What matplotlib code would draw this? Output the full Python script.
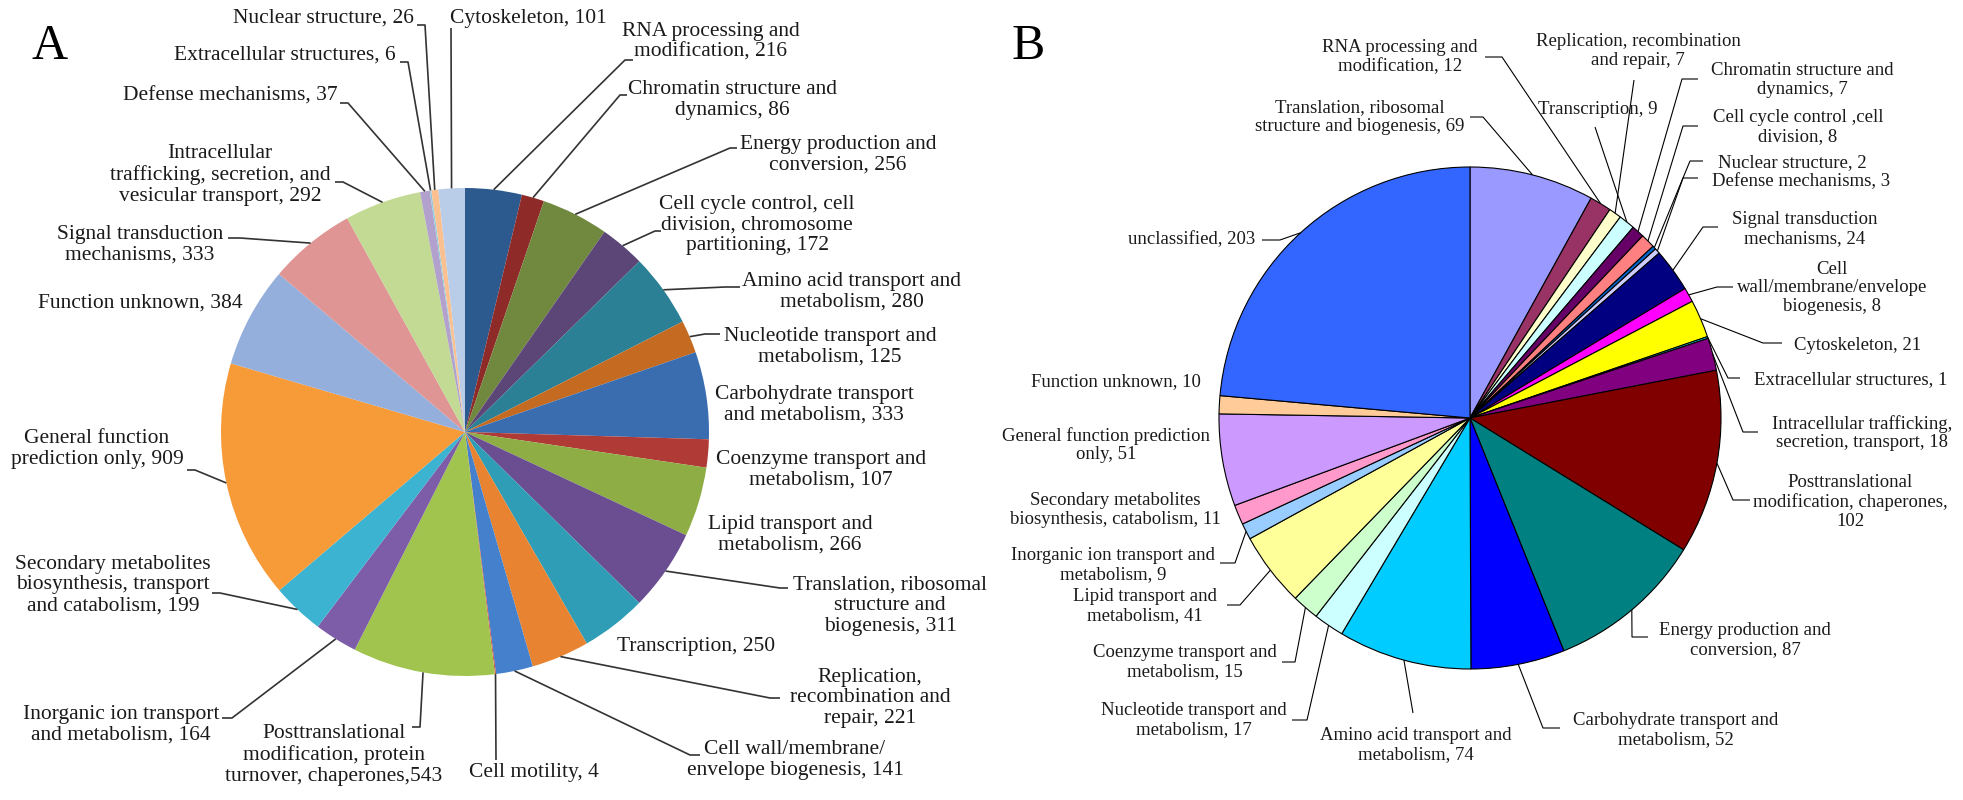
import numpy as np
import matplotlib
matplotlib.use("Agg")
import matplotlib.pyplot as plt

plt.rcParams['font.family'] = ['Liberation Serif', 'DejaVu Serif']

# ---- data: panel A ----
cats_a = ["RNA processing and\nmodification", "Chromatin structure and\ndynamics",
          "Energy production and\nconversion", "Cell cycle control, cell\ndivision, chromosome\npartitioning",
          "Amino acid transport and\nmetabolism", "Nucleotide transport and\nmetabolism",
          "Carbohydrate transport\nand metabolism", "Coenzyme transport and\nmetabolism",
          "Lipid transport and\nmetabolism", "Translation, ribosomal\nstructure and\nbiogenesis",
          "Transcription", "Replication,\nrecombination and\nrepair",
          "Cell wall/membrane/\nenvelope biogenesis", "Cell motility",
          "Posttranslational\nmodification, protein\nturnover, chaperones",
          "Inorganic ion transport\nand metabolism",
          "Secondary metabolites\nbiosynthesis, transport\nand catabolism",
          "General function\nprediction only", "Function unknown",
          "Signal transduction\nmechanisms",
          "Intracellular\ntrafficking, secretion, and\nvesicular transport",
          "Defense mechanisms", "Extracellular structures", "Nuclear structure", "Cytoskeleton"]
vals_a = [216, 86, 256, 172, 280, 125, 333, 107, 266, 311, 250, 221, 141, 4,
          543, 164, 199, 909, 384, 333, 292, 37, 6, 26, 101]

# ---- data: panel B ----
cats_b = ["Translation, ribosomal\nstructure and biogenesis", "RNA processing and\nmodification",
          "Replication, recombination\nand repair", "Transcription", "Chromatin structure and\ndynamics",
          "Cell cycle control ,cell\ndivision", "Nuclear structure", "Defense mechanisms",
          "Signal transduction\nmechanisms", "Cell\nwall/membrane/envelope\nbiogenesis",
          "Cytoskeleton", "Extracellular structures", "Intracellular trafficking,\nsecretion, transport",
          "Posttranslational\nmodification, chaperones,\n", "Energy production and\nconversion",
          "Carbohydrate transport and\nmetabolism", "Amino acid transport and\nmetabolism",
          "Nucleotide transport and\nmetabolism", "Coenzyme transport and\nmetabolism",
          "Lipid transport and\nmetabolism", "Inorganic ion transport and\nmetabolism",
          "Secondary metabolites\nbiosynthesis, catabolism", "General function prediction\nonly",
          "Function unknown", "unclassified"]
vals_b = [69, 12, 7, 9, 7, 8, 2, 3, 24, 8, 21, 1, 18, 102, 87, 52, 74, 17, 15, 41, 9, 11, 51, 10, 203]

# ---- styles ----
colors_a = ["#2c5a8e", "#8e2a28", "#71893f", "#5c4677", "#2b8096", "#c46a21", "#3a6db0",
            "#b03a36", "#8eae45", "#6a4e91", "#2e9db5", "#e88431", "#4480cc", "#cf4a45",
            "#a0c44e", "#7d5da8", "#3db3d2", "#f79a38", "#95afdc", "#de9593", "#c2da94",
            "#b1a1cc", "#92cddd", "#fac090", "#b9cde8"]
colors_b = ["#9999ff", "#993366", "#ffffcc", "#ccffff", "#660066", "#ff8080", "#0066cc",
            "#ccccff", "#000080", "#ff00ff", "#ffff00", "#00ffff", "#800080", "#800000",
            "#008080", "#0000ff", "#00ccff", "#ccffff", "#ccffcc", "#ffff99", "#99ccff",
            "#ff99cc", "#cc99ff", "#ffcc99", "#3366ff"]

W, H = 1963, 800

# layout in pixel coords (top origin): text centre, elbow (x, y, stub) or None
lay_a = [((711, 42), (625, 60, 8)), ((732, 100), (620, 95, 7)), ((838, 155), (730, 148, 7)),
         ((757, 225), (655, 231, 6)), ((852, 292), (725, 287, 15)), ((830, 347), (705, 334, 15)),
         ((814, 405), None), ((821, 470), None), ((790, 535), None), ((890, 606), (780, 588, 8)),
         ((696, 647), None), ((870, 698), (770, 698, 10)), ((795, 760), (690, 755, 10)),
         ((534, 772), (496, 760, 0)), ((334, 755), (420, 727, -8)), ((121, 725), (232, 718, -10)),
         ((113, 585), (220, 593, -8)), ((97, 449), (195, 470, -8)), ((140, 303), None),
         ((140, 245), (240, 238, -12)), ((220, 175), (343, 182, -8)), ((230, 96), (348, 103, -8)),
         ((285, 55), (408, 62, -8)), ((323, 18), (425, 25, -8)), ((528, 18), (451, 28, 0))]
lay_b = [((1360, 117), (1483, 117, -13)), ((1400, 57), (1502, 57, -17)), ((1638, 51), (1634, 80, 0)),
         ((1598, 110), (1595, 127, 0)), ((1802, 80), (1682, 79, 16)), ((1798, 127), (1683, 126, 15)),
         ((1792, 163), (1690, 161, 13)), ((1801, 182), (1683, 178, 15)), ((1805, 229), (1703, 227, 15)),
         ((1832, 288), (1717, 287, 16)), ((1858, 345), (1763, 343, 19)), ((1851, 380), (1728, 378, 12)),
         ((1862, 433), (1743, 432, 15)), ((1850, 502), (1733, 500, 17)), ((1745, 640), (1632, 637, 16)),
         ((1676, 730), (1543, 728, 17)), ((1416, 745), (1413, 713, 0)), ((1194, 720), (1307, 720, -15)),
         ((1185, 662), (1295, 662, -13)), ((1145, 606), (1240, 605, -13)), ((1113, 565), (1235, 563, -15)),
         ((1115, 510), None), ((1106, 445), None), ((1116, 382), None), ((1192, 240), (1280, 240, -18))]


def Y(y):
    return H - y


fig = plt.figure(figsize=(W / 100, H / 100), dpi=100)
ax = fig.add_axes([0, 0, 1, 1])


def draw_panel(vals, cats, colors, layout, center, radius, edge, fs, lcol, lw, sep):
    cx, cy = center
    wedges, _ = ax.pie(vals, colors=colors, startangle=90, counterclock=False,
                       center=(cx, Y(cy)), radius=radius,
                       wedgeprops=dict(linewidth=edge, edgecolor='black' if edge else 'none'))
    for w, cat, v, (tpos, elbow) in zip(wedges, cats, vals, layout):
        if cat.endswith("\n"):
            label = f"{cat}{v}"
        else:
            label = f"{cat}{sep(cat)}{v}"
        ax.text(tpos[0], Y(tpos[1]), label, ha='center', va='center', fontsize=fs,
                color='#1a1a1a', linespacing=1.12, multialignment='center')
        if elbow is None:
            continue
        mid = np.deg2rad((w.theta1 + w.theta2) / 2)
        axp = cx + radius * np.cos(mid)
        ayp = Y(cy) + radius * np.sin(mid)
        ex, ey, stub = elbow
        xs = [axp, ex, ex + stub]
        ys = [ayp, Y(ey), Y(ey)]
        ax.plot(xs, ys, color=lcol, lw=lw, solid_capstyle='butt')


def sep_a(cat):
    return ",543"[0:0] + ", "


draw_panel(vals_a, cats_a, colors_a, lay_a, (465, 432), 244, 0, 15.5, '#333333', 1.2,
           lambda c: "," if c.endswith("chaperones") else ", ")
draw_panel(vals_b, cats_b, colors_b, lay_b, (1470, 418), 251, 0.8, 13.5, 'black', 0.8,
           lambda c: ", ")

ax.text(50, Y(47), "A", ha='center', va='center', fontsize=36, color='black')
ax.text(1028, Y(47), "B", ha='center', va='center', fontsize=36, color='black')

ax.set_xlim(0, W)
ax.set_ylim(0, H)
ax.set_aspect('equal')
ax.axis('off')

fig.savefig("out.png", dpi=100, facecolor='white')
